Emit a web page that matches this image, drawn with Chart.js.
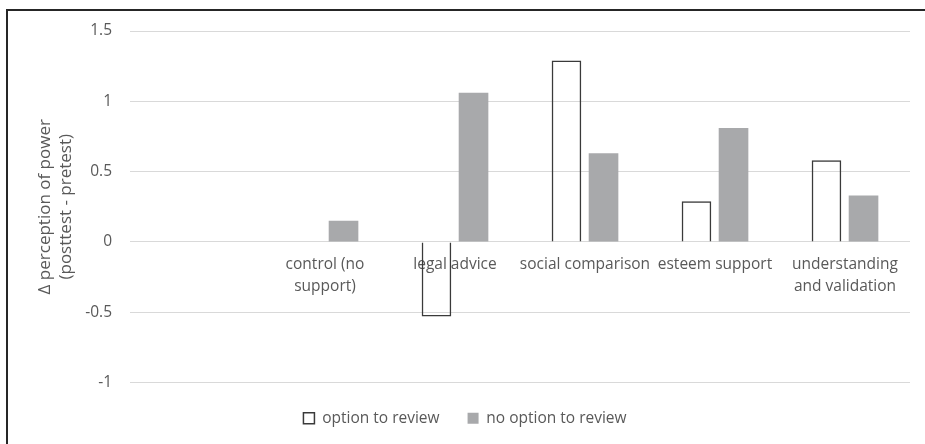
<!DOCTYPE html>
<html>
<head>
<meta charset="utf-8">
<script src="https://cdn.jsdelivr.net/npm/chart.js@4"></script>
<style>
    html, body { margin: 0; padding: 0; background: #ffffff; }
    #wrap { position: relative; width: 925px; height: 444px; overflow: hidden; }
    #frame {
        position: absolute; left: 6px; top: 9px; width: 940px; height: 460px;
        border-top: 2px solid #262626; border-left: 2px solid #262626;
    }
    #chart { position: absolute; left: 0; top: 0; }
</style>
</head>
<body>
<div id="wrap">
    <div id="frame"></div>
    <canvas id="chart" width="925" height="444"></canvas>
</div>
<script>
// category labels, split into the lines they wrap to (first slot is empty)
const CATEGORIES = [
    "",
    ["control (no", "support)"],
    "legal advice",
    "social comparison",
    "esteem support",
    ["understanding", "and validation"]
];
// change in perception of power, posttest minus pretest
const OPTION_TO_REVIEW = [null, null, -0.53, 1.29, 0.29, 0.58];
const NO_OPTION_TO_REVIEW = [null, 0.15, 1.06, 0.63, 0.81, 0.33];

const Y_MIN = -1;
const Y_MAX = 1.5;
const Y_STEP = 0.5;
const Y_TITLE = ["\u0394 perception of power", "(posttest - pretest)"];

const TEXT_COLOR = "#595959";
const GRID_COLOR = "#d9d9d9";
const FONT = "'Open Sans', sans-serif";

var chart;

function initChart() {
    chart = new Chart(document.getElementById("chart"), {
        type: 'bar',
        data: {
            labels: CATEGORIES,
            datasets: [{
                label: "option to review",
                data: OPTION_TO_REVIEW,
                backgroundColor: 'rgba(255,255,255,0)',
                borderColor: '#3a3a3a',
                borderWidth: 1.5,
            }, {
                label: "no option to review",
                data: NO_OPTION_TO_REVIEW,
                backgroundColor: '#a8a9ab',
                borderWidth: 0,
            }]
        },
        options: {
            responsive: false,
            animation: false,
            categoryPercentage: 0.57,
            barPercentage: 0.8,
            layout: {
                padding: { left: 20, right: 15, top: 31, bottom: 8 }
            },
            plugins: {
                tooltip: { enabled: false },
                legend: {
                    position: 'bottom',
                    labels: {
                        color: TEXT_COLOR,
                        font: { family: FONT, size: 15.5 },
                        boxWidth: 11,
                        boxHeight: 11,
                        padding: 28
                    }
                }
            },
            scales: {
                x: {
                    position: { y: 0 },
                    grid: { display: false, drawTicks: false },
                    border: { display: false },
                    ticks: {
                        color: TEXT_COLOR,
                        font: { family: FONT, size: 15.5, lineHeight: 1.42 },
                        padding: 12,
                        autoSkip: false,
                        maxRotation: 0
                    }
                },
                y: {
                    min: Y_MIN,
                    max: Y_MAX,
                    grid: { color: GRID_COLOR, lineWidth: 1, drawTicks: false },
                    border: { display: false },
                    ticks: {
                        stepSize: Y_STEP,
                        padding: 18,
                        color: TEXT_COLOR,
                        font: { family: FONT, size: 15.5 },
                        callback: (value) => String(value)
                    },
                    title: {
                        display: true,
                        text: Y_TITLE,
                        color: TEXT_COLOR,
                        font: { family: FONT, size: 17, lineHeight: 1.28 },
                        padding: { top: 14, bottom: 0 }
                    },
                    afterFit: (scale) => { scale.width = 110; }
                }
            }
        }
    });
}

initChart();
</script>
</body>
</html>
